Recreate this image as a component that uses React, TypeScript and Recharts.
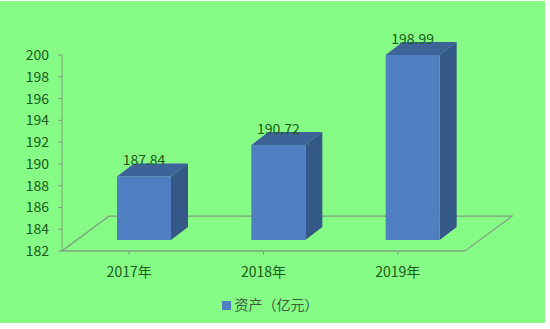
import { BarChart, Bar, XAxis, YAxis, Legend, LabelList, ReferenceArea } from 'recharts';

const years = ['2017年', '2018年', '2019年'];
const assets = [187.84, 190.72, 198.99];
const yTicks = [182, 184, 186, 188, 190, 192, 194, 196, 198, 200];
const seriesName = '资产（亿元）';

const data = years.map((name, i) => ({ name, value: assets[i] }));

const DX = 17;
const DY = 13;
const SHIFT_X = 15;
const LIFT = 11;
const FLOOR_DX = 47;

function Box3D(props: any) {
  const { x, y, width, height } = props;
  const fx = x + SHIFT_X;
  const fy = y - LIFT;
  const fb = fy + height;
  return (
    <g>
      <polygon
        points={`${fx},${fy} ${fx + DX},${fy - DY} ${fx + width + DX},${fy - DY} ${fx + width},${fy}`}
        fill="#3d6398"
      />
      <polygon
        points={`${fx + width},${fy} ${fx + width + DX},${fy - DY} ${fx + width + DX},${fb - DY} ${fx + width},${fb}`}
        fill="#345887"
      />
      <rect x={fx} y={fy} width={width} height={height} fill="#4f7fc0" />
    </g>
  );
}

function Floor(props: any) {
  const { x, y, width, height } = props;
  const b = y + height;
  return (
    <polygon
      points={`${x},${b} ${x + width},${b} ${x + width + FLOOR_DX},${y} ${x + FLOOR_DX},${y}`}
      fill="none"
      stroke="#7fa07f"
      strokeWidth={1.2}
    />
  );
}

function ValueLabel(props: any) {
  const { x, y, width, value } = props;
  return (
    <text
      x={x + SHIFT_X + width / 2}
      y={y - LIFT - 15}
      textAnchor="middle"
      dominantBaseline="middle"
      fill="#175c17"
      fontSize={14}
    >
      {value}
    </text>
  );
}

export default function App() {
  return (
    <div style={{ position: 'absolute', left: 0, top: 0, width: 550, height: 329, background: '#fff' }}>
      <div style={{ position: 'absolute', left: 0, top: 1, width: 545, height: 322, background: '#86fb86' }} />
      <div style={{ position: 'absolute', left: 0, top: 0 }}>
        <BarChart
          width={550}
          height={329}
          data={data}
          margin={{ top: 55, right: 85, left: 0, bottom: 0 }}
          style={{ fontFamily: '"Noto Sans CJK SC", "Noto Sans", sans-serif' }}
        >
          <ReferenceArea y1={182} y2={185.2} shape={<Floor />} ifOverflow="visible" />
          <XAxis
            dataKey="name"
            stroke="#7fa07f"
            tickLine={{ stroke: '#7fa07f' }}
            tickSize={4}
            tickMargin={12}
            height={54}
            tick={{ fill: '#175c17', fontSize: 14 }}
          />
          <YAxis
            domain={[182, 200]}
            ticks={yTicks}
            stroke="#7fa07f"
            tickSize={4}
            tickMargin={9}
            width={62}
            tick={{ fill: '#175c17', fontSize: 14 }}
          />
          <Legend
            verticalAlign="bottom"
            align="center"
            iconType="square"
            iconSize={9}
            wrapperStyle={{ bottom: 14, left: 0, width: 550 }}
            formatter={(v: string) => <span style={{ color: '#3b5b3b', fontSize: 14 }}>{v}</span>}
          />
          <Bar
            dataKey="value"
            name={seriesName}
            fill="#4f7fc0"
            barSize={54}
            shape={<Box3D />}
            isAnimationActive={false}
          >
            <LabelList dataKey="value" content={<ValueLabel />} />
          </Bar>
        </BarChart>
      </div>
    </div>
  );
}
